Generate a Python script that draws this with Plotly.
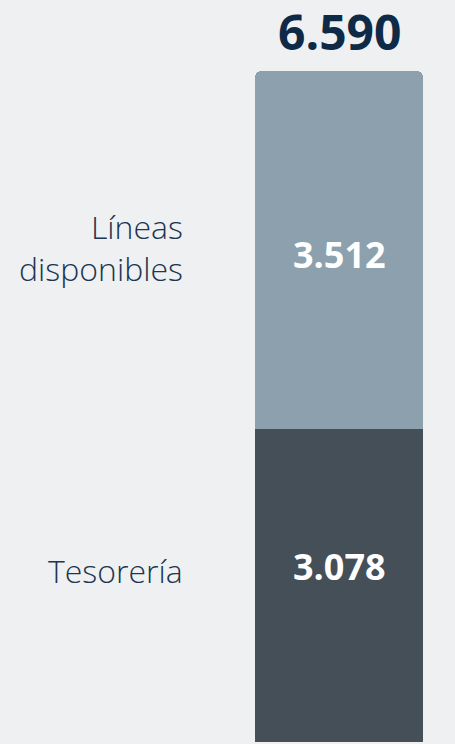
import plotly.graph_objects as go

categories = ["Tesorería", "Líneas disponibles"]
values = [3.078, 3.512]
value_labels = ["3.078", "3.512"]
total_label = "6.590"
colors = ["#444f57", "#8ca1ad"]

fig = go.Figure()
for cat, val, lab, col in zip(categories, values, value_labels, colors):
    fig.add_trace(go.Bar(
        x=[0], y=[val], width=[1.0], name=cat,
        marker=dict(color=col, line=dict(width=0)),
        hoverinfo="skip",
    ))

total = sum(values)
label_texts = ["Tesorería", "Líneas<br>disponibles"]
label_shift = [15, 2]
value_shift = [19, -5]
base = 0
for txt, val, lab, ls, vs in zip(label_texts, values, value_labels, label_shift, value_shift):
    mid = base + val / 2
    fig.add_annotation(x=-0.915, y=mid, xref="x", yref="y",
                       text=txt, showarrow=False, xanchor="right", yanchor="middle",
                       align="right", yshift=ls,
                       font=dict(family="Open Sans", size=32, color="#1c3550", weight=300))
    fig.add_annotation(x=0, y=mid, xref="x", yref="y", text="<b>" + lab + "</b>",
                       showarrow=False, xanchor="center", yanchor="middle", yshift=vs,
                       font=dict(family="Open Sans", size=36, color="white"))
    base += val

fig.add_annotation(x=0, y=total, xref="x", yref="y", text="<b>" + total_label + "</b>",
                   showarrow=False, xanchor="center", yanchor="bottom", yshift=5,
                   font=dict(family="Open Sans", size=48, color="#0f2a47"))

fig.update_layout(
    width=455, height=744, barmode="stack", showlegend=False,
    margin=dict(l=0, r=0, t=0, b=2),
    paper_bgcolor="#eef0f2", plot_bgcolor="#eef0f2",
    barcornerradius=6,
    xaxis=dict(range=[-339 / 168, (455 - 339) / 168], visible=False, fixedrange=True),
    yaxis=dict(range=[0, total * 742 / 671], visible=False, fixedrange=True),
)
fig.write_html("out.html", config={"displayModeBar": False},
               post_script="document.body.style.margin='0';document.body.style.background='#eef0f2';")
